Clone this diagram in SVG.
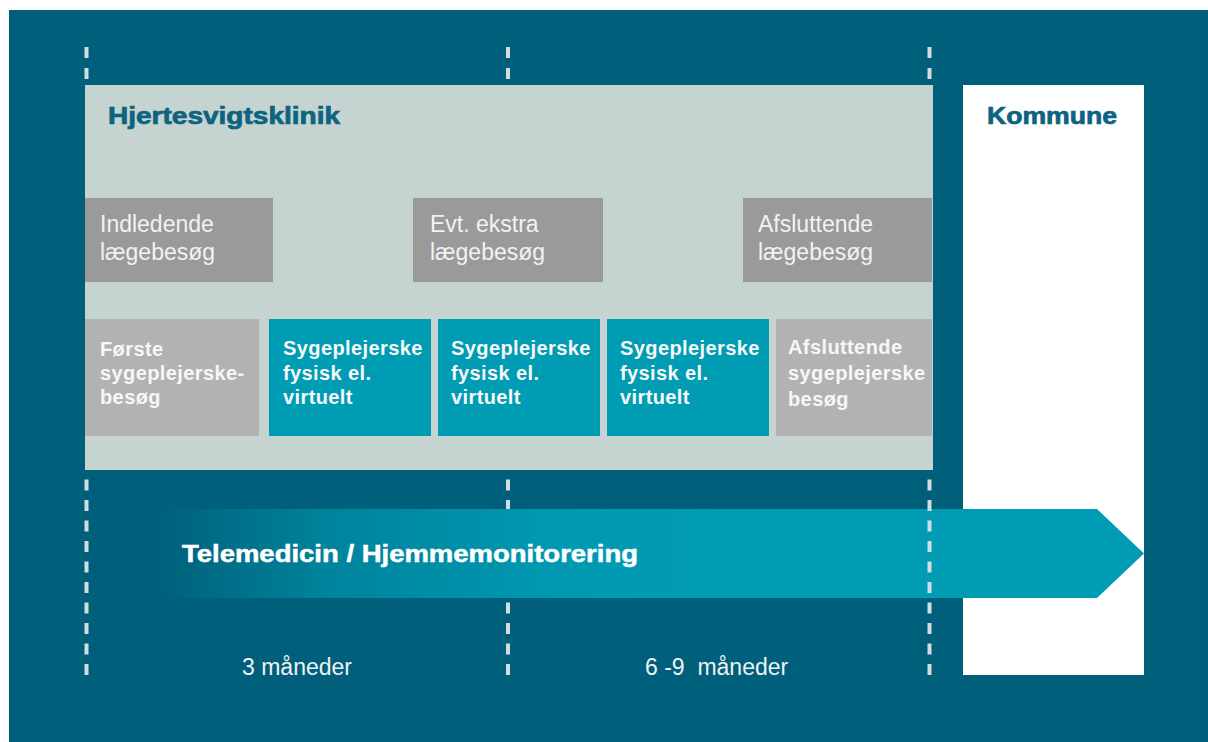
<svg xmlns="http://www.w3.org/2000/svg" width="1208" height="742" viewBox="0 0 1208 742">
<defs>
<style>
.bg{fill:#005F7A}
.panel{fill:#C6D4D1}
.dg{fill:#9A9A9A}
.lg{fill:#B2B2B2}
.tl{fill:#009CB4}
.dash{stroke:#D3DCDE;stroke-width:4;fill:none}
.t1{font-family:"Liberation Sans",Arial,sans-serif;font-size:23px;fill:#F2F2F2}
.t2{font-family:"Liberation Sans",Arial,sans-serif;font-size:20px;font-weight:bold;fill:#F7F7F7;letter-spacing:0.4px}
.hd{font-family:"Liberation Sans",Arial,sans-serif;font-size:23px;font-weight:bold;fill:#0E6480;stroke:#0E6480;stroke-width:0.7px}
.tm{font-family:"Liberation Sans",Arial,sans-serif;font-size:23px;font-weight:bold;fill:#FFFFFF;stroke:#FFFFFF;stroke-width:0.5px}
.lb{font-family:"Liberation Sans",Arial,sans-serif;font-size:23px;fill:#EEF2F3}
</style>
<linearGradient id="arrowGrad" gradientUnits="userSpaceOnUse" x1="155" y1="0" x2="720" y2="0">
<stop offset="0" stop-color="#005F7A"/>
<stop offset="0.3" stop-color="#00839C"/>
<stop offset="0.7" stop-color="#0098B1"/>
<stop offset="1" stop-color="#009CB4"/>
</linearGradient>
</defs>
<rect x="0" y="0" width="1208" height="742" fill="#FFFFFF"/>
<rect class="bg" x="9" y="10" width="1199" height="732"/>

<g id="connectors">
<line class="dash" x1="86.5" y1="47" x2="86.5" y2="81" stroke-dasharray="11 10"/>
<line class="dash" x1="508" y1="47" x2="508" y2="81" stroke-dasharray="11 10"/>
<line class="dash" x1="929.5" y1="47" x2="929.5" y2="81" stroke-dasharray="11 10"/>
<line class="dash" x1="86.5" y1="675" x2="86.5" y2="472" stroke-dasharray="11 9.5"/>
<line class="dash" x1="508" y1="675" x2="508" y2="472" stroke-dasharray="11 9.5"/>
</g>

<g id="klinik">
<rect class="panel" x="85" y="85" width="848" height="385"/>
<text class="hd" x="108" y="124" textLength="232" lengthAdjust="spacingAndGlyphs">Hjertesvigtsklinik</text>
</g>

<g id="kommune">
<rect x="963" y="85" width="181" height="590" fill="#FFFFFF"/>
<text class="hd" x="987" y="124" textLength="130" lengthAdjust="spacingAndGlyphs">Kommune</text>
</g>

<g id="indledende">
<rect class="dg" x="85" y="198" width="188" height="84"/>
<text class="t1" x="100" y="232">Indledende</text>
<text class="t1" x="100" y="260">lægebesøg</text>
</g>
<g id="evt-ekstra">
<rect class="dg" x="413" y="198" width="190" height="84"/>
<text class="t1" x="430" y="232">Evt. ekstra</text>
<text class="t1" x="430" y="260">lægebesøg</text>
</g>
<g id="afsluttende-laege">
<rect class="dg" x="743" y="198" width="189" height="84"/>
<text class="t1" x="758" y="232">Afsluttende</text>
<text class="t1" x="758" y="260">lægebesøg</text>
</g>

<g id="foerste">
<rect class="lg" x="85" y="319" width="174" height="117"/>
<text class="t2" x="100" y="356">Første</text>
<text class="t2" x="100" y="380">sygeplejerske-</text>
<text class="t2" x="100" y="404">besøg</text>
</g>
<g id="sygepl-1">
<rect class="tl" x="269" y="319" width="162" height="117"/>
<text class="t2" x="283" y="355">Sygeplejerske</text>
<text class="t2" x="283" y="380">fysisk el.</text>
<text class="t2" x="283" y="404">virtuelt</text>
</g>
<g id="sygepl-2">
<rect class="tl" x="438" y="319" width="162" height="117"/>
<text class="t2" x="451" y="355">Sygeplejerske</text>
<text class="t2" x="451" y="380">fysisk el.</text>
<text class="t2" x="451" y="404">virtuelt</text>
</g>
<g id="sygepl-3">
<rect class="tl" x="607" y="319" width="162" height="117"/>
<text class="t2" x="620" y="355">Sygeplejerske</text>
<text class="t2" x="620" y="380">fysisk el.</text>
<text class="t2" x="620" y="404">virtuelt</text>
</g>
<g id="afsluttende-sygepl">
<rect class="lg" x="776" y="319" width="156" height="117"/>
<text class="t2" x="788" y="354">Afsluttende</text>
<text class="t2" x="788" y="380">sygeplejerske</text>
<text class="t2" x="788" y="406">besøg</text>
</g>

<g id="telemedicin">
<polygon points="155,509 1097,509 1144,553.5 1097,598 155,598" fill="url(#arrowGrad)"/>
<text class="tm" x="182" y="562" textLength="456" lengthAdjust="spacingAndGlyphs">Telemedicin / Hjemmemonitorering</text>
</g>

<g id="connectors-front">
<line class="dash" x1="929.5" y1="675" x2="929.5" y2="472" stroke-dasharray="11 9.5"/>
</g>

<g id="labels">
<text class="lb" x="242" y="675">3 måneder</text>
<text class="lb" x="645" y="675" xml:space="preserve">6 -9  måneder</text>
</g>
</svg>
